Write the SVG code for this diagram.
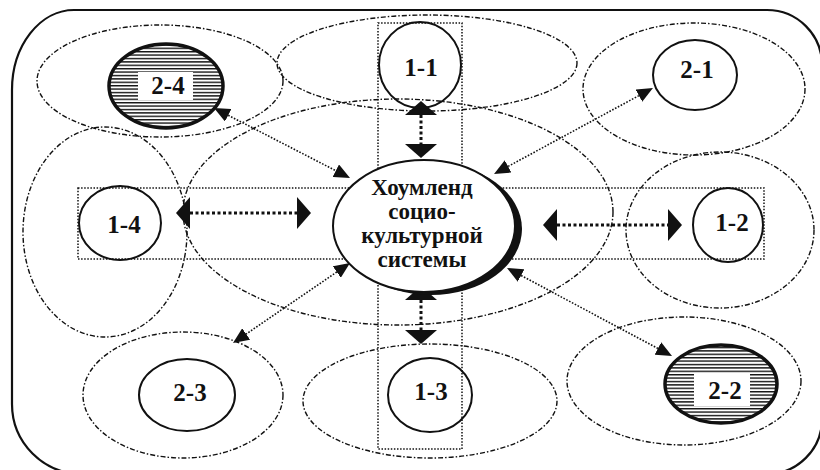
<svg xmlns="http://www.w3.org/2000/svg" width="820" height="470" viewBox="0 0 820 470">
<style>
.zone{fill:none;stroke:#111;stroke-width:1.4;stroke-dasharray:5 2 1.5 2}
.band{fill:none;stroke:#111;stroke-width:1.5;stroke-dasharray:1.5 1.6}
.node{fill:none;stroke:#111;stroke-width:2}
.hnode{fill:url(#hatch);stroke:#111;stroke-width:3.5}
.lbl{font-family:"Liberation Serif","Times New Roman",serif;font-weight:bold;font-size:25px;text-anchor:middle;fill:#111}
.ctr{font-family:"Liberation Serif","Times New Roman",serif;font-weight:bold;font-size:23px;text-anchor:middle;fill:#111}
.big{fill:none;stroke:#111;stroke-width:3;stroke-dasharray:3 2.5;marker-start:url(#ah);marker-end:url(#ah)}
.thin{fill:none;stroke:#111;stroke-width:1.6;stroke-dasharray:1.6 1.6;marker-start:url(#as);marker-end:url(#as)}
</style>
<defs>
<pattern id="hatch" width="8" height="3.4" patternUnits="userSpaceOnUse">
<rect width="8" height="3.4" fill="#fff"/>
<rect width="8" height="1.4" fill="#111"/>
</pattern>
<marker id="ah" viewBox="0 -16 14 32" refX="0" refY="0" markerWidth="14" markerHeight="32" markerUnits="userSpaceOnUse" orient="auto-start-reverse">
<path d="M0,-16 L14,0 L0,16 z" fill="#111"/>
</marker>
<marker id="as" viewBox="0 -7 16 14" refX="0" refY="0" markerWidth="16" markerHeight="14" markerUnits="userSpaceOnUse" orient="auto-start-reverse">
<path d="M0,-7 L16,0 L0,7 z" fill="#111"/>
</marker>
</defs>
<rect x="0" y="0" width="820" height="470" fill="#fff"/>
<path d="M12,90 A62,80 0 0 1 74,10 H767 A55,55 0 0 1 822,65 V419 A55,55 0 0 1 767,474 H82 A70,70 0 0 1 12,404 Z" fill="none" stroke="#111" stroke-width="2.2"/>
<g id="zones">
<ellipse class="zone" cx="160" cy="81" rx="123" ry="56"/>
<ellipse class="zone" cx="427" cy="63" rx="150" ry="48"/>
<ellipse class="zone" cx="694" cy="89" rx="111" ry="66"/>
<ellipse class="zone" cx="105" cy="232" rx="82" ry="105"/>
<ellipse class="zone" cx="398" cy="212" rx="215" ry="113"/>
<ellipse class="zone" cx="720" cy="230" rx="94" ry="78"/>
<ellipse class="zone" cx="183" cy="395" rx="100" ry="63"/>
<ellipse class="zone" cx="430" cy="401" rx="127" ry="57"/>
<ellipse class="zone" cx="684" cy="381" rx="117" ry="64"/>
<rect class="band" x="378" y="23" width="84" height="426"/>
<rect class="band" x="78" y="188" width="686" height="71"/>
</g>
<g id="connectors">
<line class="big" x1="190" y1="213" x2="297" y2="213"/>
<line class="big" x1="557" y1="225" x2="668" y2="225"/>
<line class="big" x1="421" y1="115" x2="421" y2="144"/>
<line class="big" x1="421" y1="300" x2="421" y2="330"/>
<line class="thin" x1="228.2" y1="115.3" x2="335.8" y2="170.7"/>
<line class="thin" x1="508.1" y1="166.4" x2="638.9" y2="95.6"/>
<line class="thin" x1="336.8" y1="272" x2="246.2" y2="334"/>
<line class="thin" x1="521.1" y1="275.5" x2="657.9" y2="348.5"/>
</g>
<g id="node-center">
<ellipse cx="431" cy="229" rx="91" ry="66" fill="#111"/>
<ellipse cx="424" cy="226" rx="91" ry="66" fill="#fff" stroke="#111" stroke-width="2"/>
<text class="ctr" x="422" y="195">Хоумленд</text>
<text class="ctr" x="422" y="219">социо-</text>
<text class="ctr" x="422" y="243">культурной</text>
<text class="ctr" x="422" y="267">системы</text>
</g>
<g id="node-1-1">
<ellipse class="node" cx="420" cy="65" rx="41" ry="43"/>
<text class="lbl" x="421" y="76">1-1</text>
</g>
<g id="node-1-2">
<ellipse class="node" cx="728" cy="225" rx="35" ry="37"/>
<text class="lbl" x="732" y="231">1-2</text>
</g>
<g id="node-1-3">
<ellipse class="node" cx="430" cy="395" rx="42" ry="37"/>
<text class="lbl" x="431" y="400">1-3</text>
</g>
<g id="node-1-4">
<ellipse class="node" cx="120" cy="223" rx="41" ry="37"/>
<text class="lbl" x="124" y="233">1-4</text>
</g>
<g id="node-2-1">
<ellipse class="node" cx="695" cy="75" rx="42" ry="35"/>
<text class="lbl" x="697" y="78">2-1</text>
</g>
<g id="node-2-2">
<ellipse class="hnode" cx="721" cy="384" rx="56" ry="39"/>
<rect x="694" y="374" width="56" height="32" fill="#fff"/>
<text class="lbl" x="725" y="399">2-2</text>
</g>
<g id="node-2-3">
<ellipse class="node" cx="187" cy="395" rx="48" ry="36"/>
<text class="lbl" x="190" y="401">2-3</text>
</g>
<g id="node-2-4">
<ellipse class="hnode" cx="166" cy="86" rx="57" ry="42"/>
<rect x="138" y="72" width="55" height="28" fill="#fff"/>
<text class="lbl" x="168" y="94">2-4</text>
</g>
</svg>
